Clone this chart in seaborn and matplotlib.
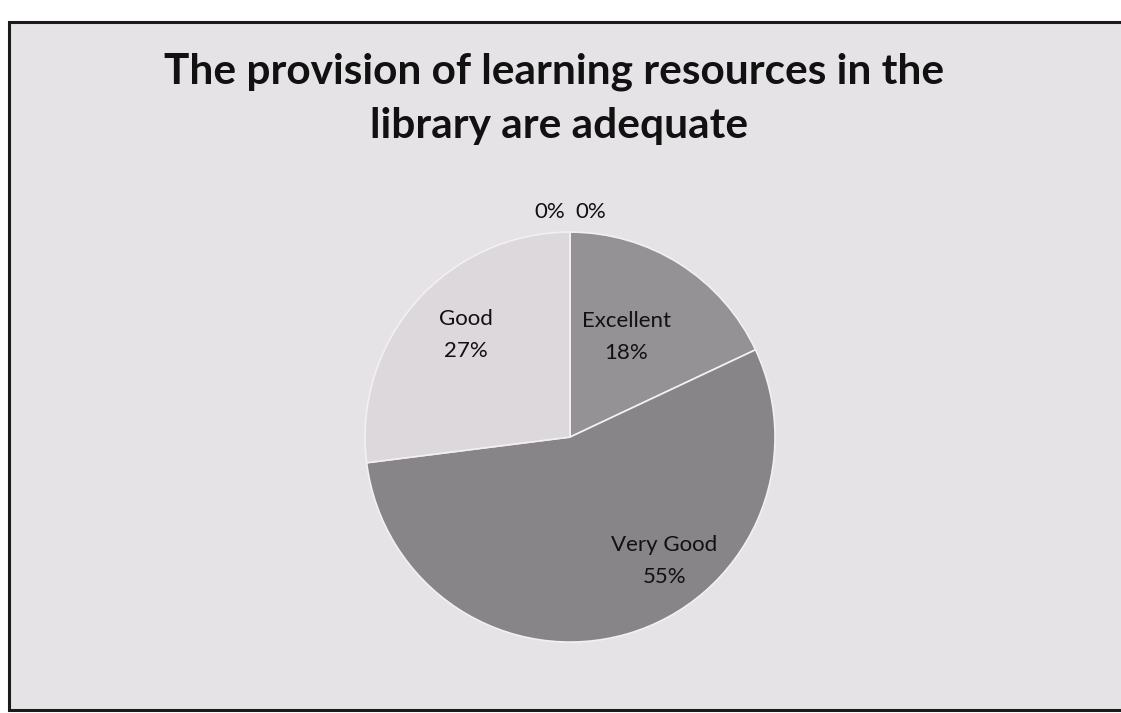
import numpy as np
import matplotlib
matplotlib.use("Agg")
import matplotlib.pyplot as plt
import seaborn as sns
from matplotlib.patches import Rectangle

# data
categories = ["Excellent", "Very Good", "Good", "Fair", "Poor"]
shares = [18, 55, 27, 0, 0]
slice_colors = ["#959296", "#878588", "#dcd8dc", "#c8c8c8", "#bbbbbb"]
title_lines = ["The provision of learning resources in the", "library are adequate"]

# label placement (radius, angle shift in degrees) per category
label_place = {"Excellent": (0.56, 3), "Very Good": (0.76, 21), "Good": (0.71, -3)}

sns.set_theme(style="white")
plt.rcParams["font.family"] = ["Lato", "DejaVu Sans"]

fig = plt.figure(figsize=(11.21, 7.13), dpi=100)
fig.patch.set_facecolor("white")

# paper-like panel with a dark frame, kept behind everything
bg = fig.add_axes([0, 0, 1, 1], zorder=-10)
bg.set_xlim(0, 1)
bg.set_ylim(0, 1)
bg.axis("off")
bg.add_patch(Rectangle((0.008, 0.004), 1.2, 0.965, facecolor="#e6e3e6",
                       edgecolor="#1a1a1a", linewidth=2.2, clip_on=False))

fig.text(0.494, 0.900, title_lines[0], ha="center", va="center",
         fontsize=30.5, fontweight="bold", color="#111111")
fig.text(0.499, 0.823, title_lines[1], ha="center", va="center",
         fontsize=30.5, fontweight="bold", color="#111111")

ax = fig.add_axes([0.3255, 0.0995, 0.366, 0.575])
wedges, _ = ax.pie(shares, colors=slice_colors, startangle=90, counterclock=False,
                   wedgeprops=dict(edgecolor="#f2f0f2", linewidth=1.2))
ax.set_xlim(-1.0, 1.0)
ax.set_ylim(-1.0, 1.0)
ax.set_aspect("equal")
ax.axis("off")

zero_side = -1
for w, name, val in zip(wedges, categories, shares):
    mid = (w.theta1 + w.theta2) / 2
    if val > 0:
        r, shift = label_place[name]
        a = np.deg2rad(mid + shift)
        ax.text(r * np.cos(a), r * np.sin(a), f"{name}\n{val}%", ha="center",
                va="center", fontsize=16, color="#111111", linespacing=1.75)
    else:
        a = np.deg2rad(mid)
        x, y = 1.1 * np.cos(a) + zero_side * 0.1, 1.1 * np.sin(a)
        ax.text(x, y, f"{val}%", ha="center", va="center",
                fontsize=16, color="#111111")
        zero_side = -zero_side

fig.savefig("out.png", dpi=100)
